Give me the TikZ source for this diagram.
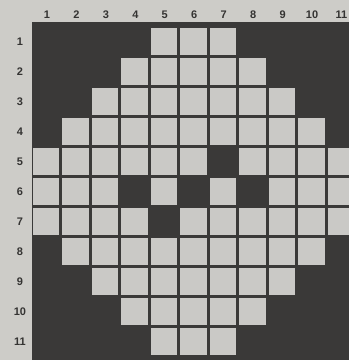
\documentclass[tikz,border=0pt]{standalone}
\usepackage{fontspec}
\setsansfont{Liberation Sans}

\definecolor{paper}{RGB}{205,204,200}
\definecolor{board}{RGB}{58,57,56}
\definecolor{squaregray}{RGB}{202,201,198}

\begin{document}
\begin{tikzpicture}[x=1pt,y=-1pt,
  square/.style={fill=squaregray},
  hole/.style={fill=board},
  num/.style={font=\sffamily\bfseries\fontsize{11}{11}\selectfont,text=board!90!black,inner sep=0pt}]

% paper
\fill[paper] (0,0) rectangle (349,360);
\useasboundingbox (0,0) rectangle (349,360);
\clip (0,0) rectangle (349,360);

% dark board
\fill[board] (32,22) rectangle (360,370);

% light squares, row by row
\foreach \r/\a/\b in {1/5/7,2/4/8,3/3/9,4/2/10,5/1/11,6/1/11,7/1/11,8/2/10,9/3/9,10/4/8,11/5/7} {
  \foreach \c in {\a,...,\b}
    \fill[square] ({33+29.5*(\c-1)},{28+30*(\r-1)}) rectangle +(26.5,27);
}

% dark squares inside the shape
\foreach \r/\c in {5/7,6/4,6/6,6/8,7/5}
  \fill[hole] ({33+29.5*(\c-1)},{28+30*(\r-1)}) rectangle +(26.5,27);

% column numbers
\foreach \c in {1,...,11}
  \node[num] (col\c) at ({47+29.45*(\c-1)},15) {\c};

% row numbers
\foreach \r in {1,...,11}
  \node[num] (row\r) at (20,{41.5+30*(\r-1)}) {\r};

\end{tikzpicture}
\end{document}
